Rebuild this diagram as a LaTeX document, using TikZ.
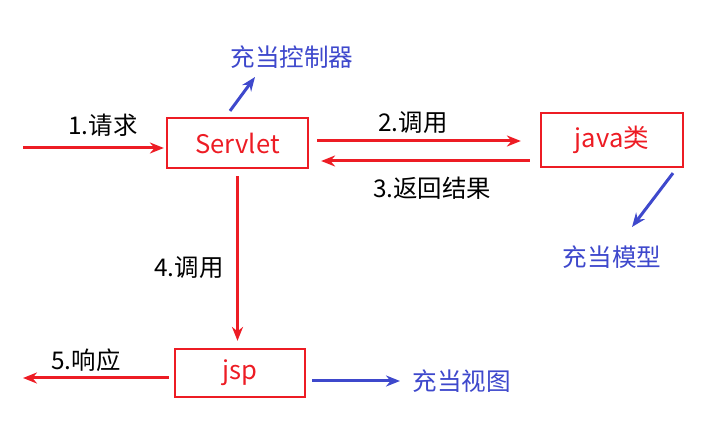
\documentclass[tikz,border=0pt]{standalone}
\usepackage{fontspec}
\newfontfamily\cjk{Noto Sans CJK SC}
\usepackage{xcolor}
\definecolor{mvcred}{RGB}{237,28,36}
\definecolor{mvcblue}{RGB}{62,72,204}
\usepackage{tikz}
\usetikzlibrary{arrows.meta, positioning}

\tikzset{
  box/.style={draw=mvcred, line width=1.1pt, text=mvcred, font=\cjk\fontsize{12.8}{15}\selectfont, inner sep=0pt},
  redarrow/.style={draw=mvcred, line width=1.5pt, -{Stealth[length=7pt, width=5.5pt]}},
  bluearrow/.style={draw=mvcblue, line width=1.5pt, -{Stealth[length=7pt, width=5.5pt]}},
  steplbl/.style={font=\cjk\fontsize{12.2}{14}\selectfont, text=black, inner sep=0pt},
  rolelbl/.style={font=\cjk\fontsize{12.3}{14}\selectfont, text=mvcblue, inner sep=0pt}
}

\begin{document}
\begin{tikzpicture}[x=0.5pt, y=-0.5pt]
      \useasboundingbox (0,0) rectangle (703,433);
      % the three boxes
      \node[box, minimum width=70.5pt, minimum height=25pt] (servlet) at (237.5,143) {Servlet};
      \node[box, minimum width=71pt, minimum height=27pt] (javacls) at (612,140) {java类};
      \node[box, minimum width=65pt, minimum height=24pt] (jsp) at (240,373) {jsp};
      % role labels
      \node[rolelbl] (ctrl) at (292,57) {充当控制器};
      \node[rolelbl] (model) at (612,257) {充当模型};
      \node[rolelbl, anchor=west] (view) at (412,381) {充当视图};
      % free ends
      \coordinate (req) at (23,148);
      \coordinate (resp) at (23,378);
      % red flow arrows
      \draw[redarrow] (req) -- ([shift={(-2,5)}]servlet.west);
      \draw[redarrow] ([shift={(8,-2)}]servlet.east) -- ([shift={(-19,1)}]javacls.west);
      \draw[redarrow] ([shift={(-10,21)}]javacls.west) -- ([shift={(12,18)}]servlet.east);
      \draw[redarrow] ([shift={(0,7)}]servlet.south) -- ([shift={(-2.5,-7)}]jsp.north);
      \draw[redarrow] ([shift={(-5,5)}]jsp.west) -- (resp);
      % blue role arrows
      \draw[bluearrow] ([shift={(-7.5,-6)}]servlet.north) -- ([shift={(-37,20)}]ctrl.center);
      \draw[bluearrow] ([shift={(61,5)}]javacls.south) -- ([shift={(20,-30)}]model.center);
      \draw[bluearrow] ([shift={(6,8)}]jsp.east) -- ([shift={(-12,0)}]view.west);
      % step labels
      \node[steplbl] (s1) at (103,125) {1.请求};
      \node[steplbl] (s2) at (413,123) {2.调用};
      \node[steplbl] (s3) at (432,188) {3.返回结果};
      \node[steplbl] (s4) at (189,268) {4.调用};
      \node[steplbl] (s5) at (86,360) {5.响应};
\end{tikzpicture}
\end{document}
